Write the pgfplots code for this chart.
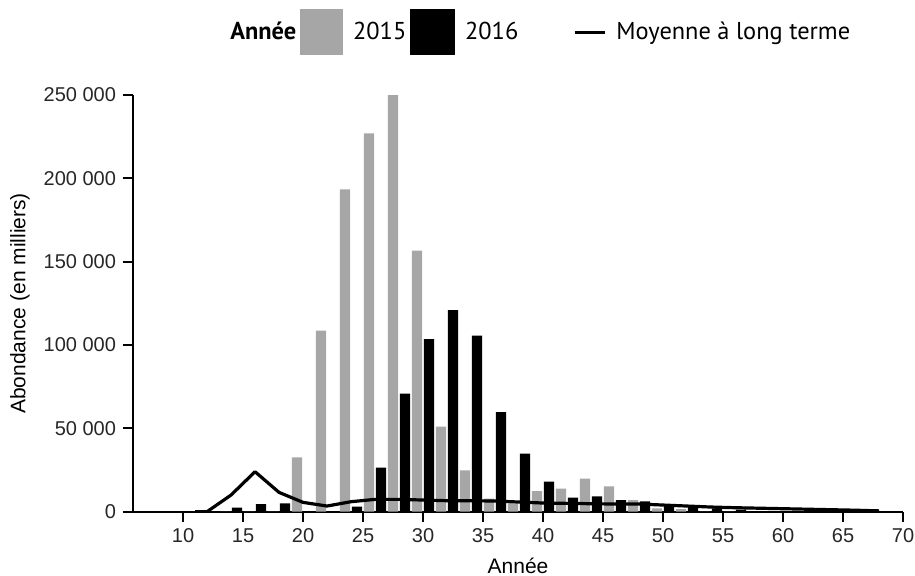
\documentclass[border=0pt]{standalone}
\usepackage{pgfplots}
\pgfplotsset{compat=1.18}
\usepackage{pgfplotstable}
\usepackage{fontspec}
\setmainfont{Liberation Sans}
\newfontfamily\legfont{PT Sans}
\definecolor{gris}{HTML}{A6A6A6}

% classes de 2 unites : 2015 (gris) et 2016 (noir)
\pgfplotstableread{
classe a2015 a2016
14 0 2400
16 0 4600
18 0 5000
20 32600 0
22 108600 0
24 193400 3000
26 227000 26400
28 251400 70800
30 156600 103600
32 51000 121000
34 24800 105600
36 7800 59800
38 5000 34800
40 12300 18100
42 13800 8400
44 19800 9200
46 15200 7000
48 7000 6200
50 2000 4000
52 1500 3000
54 0 2000
56 0 1200
}\donnees

% moyenne a long terme
\pgfplotstableread{
x moy
11 0
12 0
14 10000
16 24000
18 11600
20 5600
22 3400
24 6000
26 7400
28 7400
30 7000
32 6600
34 6600
36 6400
38 5800
40 5200
42 5000
44 4800
46 4600
48 4600
50 4000
52 3400
54 2800
56 2400
58 2100
60 1800
62 1500
64 1200
66 900
68 500
}\moyenne

\begin{document}
\begin{tikzpicture}
\begin{axis}[
  scale only axis,
  width=385pt, height=208.3pt,
  xmin=5.83, xmax=70, ymin=0, ymax=250000,
  axis x line=bottom, axis y line=left,
  axis line style={-, line width=1pt},
  xtick={10,15,...,70},
  ytick={0,50000,...,250000},
  tick style={black, line width=1pt},
  major tick length=5pt,
  tick align=outside,
  scaled y ticks=false,
  /pgf/number format/assume math mode=true,
  yticklabel style={/pgf/number format/.cd, fixed, 1000 sep={\ }},
  tick label style={font=\fontsize{10}{12}\selectfont, text=black!85},
  label style={font=\fontsize{10.5}{12}\selectfont},
  xlabel={Année},
  ylabel={Abondance (en milliers)},
  xlabel style={at={(axis description cs:0.5,-0.1296)}, anchor=center},
  ylabel style={at={(axis description cs:-0.1468,0.5)}, anchor=center},
  legend columns=-1,
  legend style={at={(axis description cs:0.525,1.151)}, anchor=center,
    draw=none, fill=none, font=\legfont\fontsize{12.2}{14}\selectfont,
    /tikz/every odd column/.append style={column sep=3pt}},
]
\addlegendimage{empty legend}
\addlegendentry{\textbf{Année}}
\addlegendimage{legend image code/.code={\fill[gris] (0pt,-11.25pt) rectangle (21pt,11.25pt);}}
\addlegendentry{2015}
\addlegendimage{legend image code/.code={\fill[black] (0pt,-11.25pt) rectangle (22pt,11.25pt);}}
\addlegendentry{2016}
\addlegendimage{legend image code/.code={\path (0pt,0pt); \draw[line width=1.6pt] (26pt,0pt) -- (41pt,0pt);}}
\addlegendentry{Moyenne à long terme}

\addplot[ybar, bar width=0.85, bar shift=-0.5, fill=gris, draw=none, forget plot]
  table[x=classe, y=a2015] {\donnees};
\addplot[ybar, bar width=0.85, bar shift=0.5, fill=black, draw=none, forget plot]
  table[x=classe, y=a2016] {\donnees};
\addplot[line width=1.6pt, black, line join=round, forget plot]
  table[x=x, y=moy] {\moyenne};
\end{axis}
\pgfresetboundingbox
\useasboundingbox (-66.5pt,-31.65pt) rectangle (391pt,255.85pt);
\end{tikzpicture}
\end{document}
